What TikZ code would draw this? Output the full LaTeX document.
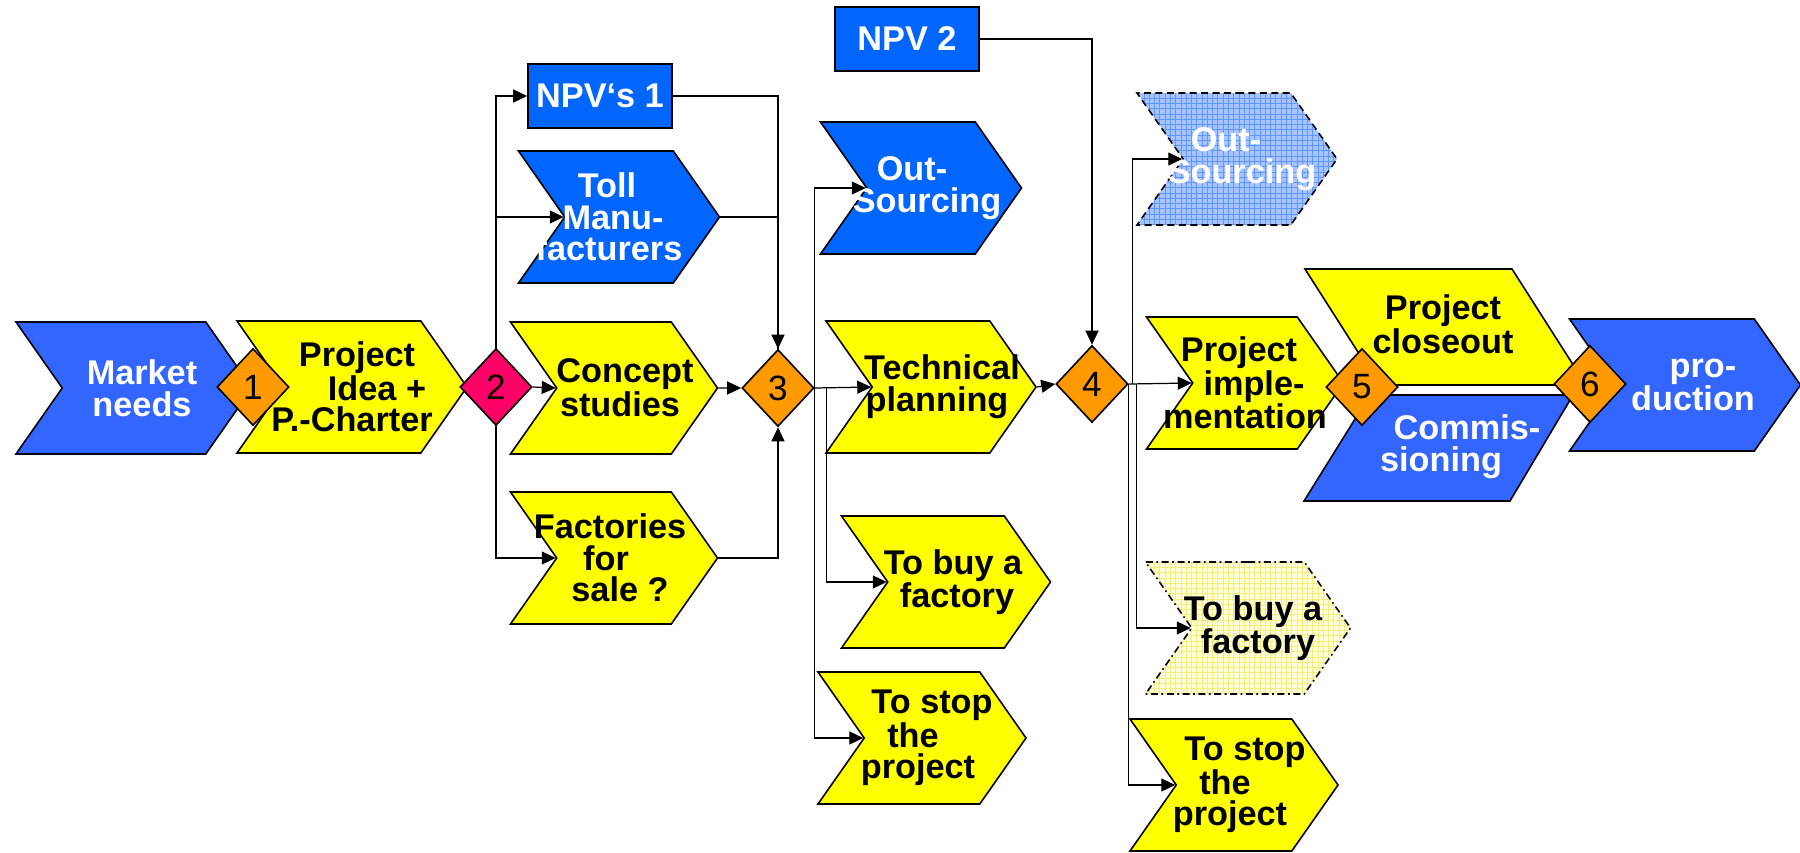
\documentclass[tikz,border=0pt]{standalone}
\usepackage{fontspec}
\setmainfont{Liberation Sans}
\usetikzlibrary{shapes.symbols,shapes.geometric,arrows.meta,patterns}
\definecolor{mblue}{HTML}{3366FF}
\definecolor{dblue}{HTML}{0066FF}
\definecolor{pyellow}{HTML}{FFFF00}
\definecolor{dorange}{HTML}{FF9900}
\definecolor{dpink}{HTML}{FF0066}
\definecolor{lblue}{HTML}{A8C4FF}
\definecolor{gblue}{HTML}{5F96FF}
\definecolor{lyellow}{HTML}{FFFFD6}
\definecolor{gyellow}{HTML}{F4EC80}
\begin{document}
\begin{tikzpicture}[x=0.2mm,y=-0.2mm]
\tikzstyle{step-shape}=[signal, signal from=west, signal to=east, signal pointer angle=110, draw=black, line width=0.9pt, minimum width=41.4mm, minimum height=26.4mm, inner ysep=0pt, inner xsep=-6mm, align=center, font=\bfseries\fontsize{19.5}{18}\selectfont]
\tikzstyle{yellow-step}=[step-shape, fill=pyellow, text=black]
\tikzstyle{blue-step}=[step-shape, fill=dblue, text=white]
\tikzstyle{main-step}=[step-shape, fill=mblue, text=white]
\tikzstyle{blue-option}=[step-shape, dash pattern=on 4pt off 2.5pt, preaction={fill=lblue}, pattern=grid, pattern color=gblue, text=white]
\tikzstyle{yellow-option}=[step-shape, dash pattern=on 4pt off 2pt on 1pt off 2pt, preaction={fill=lyellow}, pattern=grid, pattern color=gyellow, text=black]
\tikzstyle{npv-box}=[rectangle, draw=black, line width=0.9pt, fill=dblue, text=white, minimum width=28.8mm, minimum height=12.8mm, inner sep=0pt, font=\bfseries\fontsize{19.5}{18}\selectfont]
\tikzstyle{gate}=[diamond, draw=black, line width=0.9pt, fill=dorange, minimum width=14.4mm, minimum height=15.4mm, inner sep=0pt, font=\fontsize{20}{20}\selectfont]
\tikzstyle{flat-shape}=[draw=black, line width=0.9pt]
\tikzstyle{flat-text}=[align=center, inner sep=0pt, font=\bfseries\fontsize{19.5}{18}\selectfont]
\tikzstyle{flow-edge}=[-{Triangle[length=2.8mm,width=2.6mm]}, black, line width=0.7pt]
\tikzstyle{plain-edge}=[black, line width=0.7pt]
\useasboundingbox (0,0) rectangle (1800,852);

% main line, left part
\node[style=main-step, minimum width=47.2mm] (market) at (134,388) {\hspace*{3.2mm}Market\\\hspace*{3.2mm}needs};
\node[style=yellow-step, minimum width=46mm] (idea) at (352,387) {\hspace*{2mm}Project\\\hspace*{10mm}Idea +\\P.-Charter};
\node[style=gate] (d1) at (253,387) {1};
\node[style=gate, fill=dpink] (d2) at (496,387) {2};

% options after gate 2
\node[style=npv-box] (npv1) at (600,96) {NPV‘s 1};
\node[style=blue-step, minimum width=40.2mm] (toll) at (619,217) {\hspace*{-4.8mm}Toll\\\hspace*{-2.4mm}Manu-\\\hspace*{-4mm}facturers};
\node[style=yellow-step] (concept) at (614,388) {\hspace*{4.4mm}Concept\\\hspace*{2.4mm}studies};
\node[style=yellow-step] (sale) at (614,558) {\hspace*{-1.6mm}Factories\\\hspace*{-3.2mm}for\\\hspace*{2.4mm}sale ?};
\node[style=gate] (d3) at (778,388) {3};

% options after gate 3
\node[style=blue-step, minimum width=40.2mm] (outsrc) at (921,188) {\hspace*{-3.6mm}Out-\\\hspace*{2.4mm}Sourcing};
\node[style=yellow-step, minimum width=41.6mm] (tech) at (931,387) {\hspace*{4.4mm}Technical\\\hspace*{2.4mm}planning};
\node[style=yellow-step, minimum width=41.8mm] (buy) at (946,582) {\hspace*{2.8mm}To buy a\\\hspace*{4.4mm}factory};
\node[style=yellow-step, minimum width=41.6mm] (stop) at (922,738) {\hspace*{4mm}To stop\\\hspace*{-3.6mm}the\\\hspace*{-1.6mm}project};
\node[style=npv-box] (npv2) at (907,39) {NPV 2};
\node[style=gate] (d4) at (1092,384) {4};

% options after gate 4
\node[style=blue-option, minimum width=40mm] (outsrc2) at (1237,159) {\hspace*{-4.4mm}Out-\\\hspace*{2mm}Sourcing};
\node[style=yellow-step, minimum width=39.4mm] (impl) at (1245,383) {\hspace*{-2.4mm}Project\\\hspace*{3.6mm}imple-\\mentation};
\node[style=yellow-option, minimum width=41mm] (buy2) at (1248,628) {\hspace*{2mm}To buy a\\\hspace*{4mm}factory};
\node[style=yellow-step, minimum width=41.6mm] (stop2) at (1234,785) {\hspace*{4.4mm}To stop\\\hspace*{-3.6mm}the\\\hspace*{-1.6mm}project};

% closeout and commissioning
\filldraw[style=flat-shape, fill=pyellow] (1305,269) -- (1512,269) -- (1586,385) -- (1379,385) -- cycle;
\node[style=flat-text] (close) at (1443,324) {Project\\closeout};
\filldraw[style=flat-shape, fill=mblue] (1370,395) -- (1573,395) -- (1510,501) -- (1304,501) -- cycle;
\node[style=flat-text, text=white] (comm) at (1452,447) {\hspace*{6mm}Commis-\\\hspace*{-4.4mm}sioning};
\node[style=gate] (d5) at (1362,387) {5};
\node[style=main-step, minimum width=46.2mm] (prod) at (1685,385) {\hspace*{7.2mm}pro-\\\hspace*{3.2mm}duction};
\node[style=gate] (d6) at (1590,384) {6};

% connectors
\draw[style=flow-edge] (d2.north) |- (npv1.west);
\draw[style=flow-edge] (d2.north) |- (toll.180);
\draw[style=flow-edge] (d2.east) -- (concept.180);
\draw[style=flow-edge] (d2.south) |- (sale.180);

\draw[style=flow-edge] (npv1.east) -| (d3.north);
\draw[style=plain-edge] (toll.0) -| (d3.north);
\draw[style=flow-edge] (concept.0) -- (d3.west);
\draw[style=flow-edge] (sale.0) -| (d3.south);

\draw[style=flow-edge] (d3.east) -- (tech.180);
\draw[style=flow-edge] (d3.east) |- (outsrc.180);
\draw[style=flow-edge] ([xshift=2.4mm]d3.east) |- (buy.180);
\draw[style=flow-edge] (d3.east) |- (stop.180);

\draw[style=flow-edge] (tech.0) -- (d4.west);
\draw[style=flow-edge] (npv2.east) -| (d4.north);
\draw[style=flow-edge] (d4.east) -- (impl.180);
\draw[style=flow-edge] ([xshift=0.8mm]d4.east) |- (outsrc2.180);
\draw[style=flow-edge] ([xshift=1.6mm]d4.east) |- (buy2.180);
\draw[style=flow-edge] (d4.east) |- (stop2.180);

\end{tikzpicture}
\end{document}
